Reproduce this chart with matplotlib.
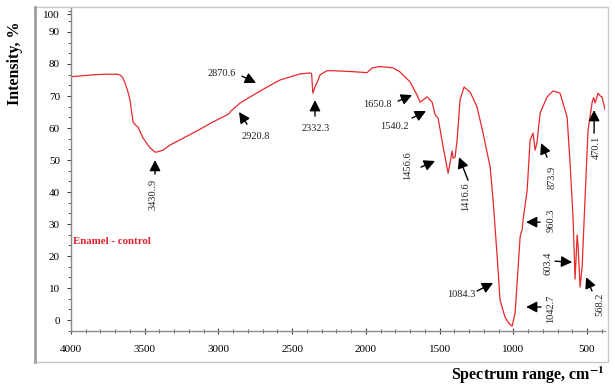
import matplotlib
matplotlib.use("Agg")
import matplotlib.pyplot as plt
from matplotlib.patches import Rectangle
from matplotlib.lines import Line2D
from matplotlib.ticker import MultipleLocator

plt.rcParams["font.family"] = ["Liberation Serif", "DejaVu Serif"]
plt.rcParams["mathtext.fontset"] = "stix"

# -------------------------------
# Spectrum
# -------------------------------
wavenumber = [4000, 3930, 3851, 3780, 3688, 3668, 3650, 3634, 3615, 3600, 3590,
              3579, 3560, 3545, 3512, 3464, 3430, 3417, 3376, 3328, 3261, 3145,
              3037, 2942, 2925, 2918, 2853, 2786, 2670, 2582, 2446, 2379, 2368,
              2360, 2345, 2332, 2311, 2264, 2222, 2087, 1992, 1975, 1958, 1904,
              1815, 1768, 1700, 1653, 1632, 1585, 1551, 1530, 1510, 1476, 1442,
              1429, 1415, 1408, 1395, 1381, 1361, 1334, 1293, 1246, 1205, 1157,
              1137, 1110, 1090, 1056, 1030, 1008, 988, 967, 954, 946, 940, 934,
              906, 886, 866, 852, 839, 818, 771, 730, 683, 635, 615, 594, 581,
              567, 560, 547, 533, 513, 493, 465, 455, 445, 425, 410, 398, 377]
intensity = [76.0, 76.3, 76.6, 76.8, 76.8, 76.6, 75.8, 74.1, 71.5, 68.8, 65.5,
             61.9, 60.8, 60.3, 56.9, 53.8, 52.5, 52.5, 53.1, 54.7, 56.3, 59.1,
             61.9, 64.1, 64.6, 65.2, 67.8, 69.7, 72.8, 75.0, 76.9, 77.2, 77.0,
             70.9, 72.8, 74.1, 76.6, 77.9, 77.9, 77.6, 77.3, 78.0, 78.75, 79.2,
             78.8, 77.5, 74.4, 70.3, 68.1, 69.7, 68.1, 64.1, 63.1, 54.1, 45.9,
             49.1, 52.8, 50.6, 50.9, 56.3, 68.8, 72.8, 71.25, 66.6, 58.4, 47.8,
             37.5, 20.3, 6.3, 0.9, -1.0, -1.9, 2.2, 16.6, 25.9, 27.5, 28.1, 31.25,
             40.6, 56.25, 58.4, 53.1, 55.6, 64.7, 69.7, 71.6, 70.9, 63.4, 49.1,
             31.25, 12.8, 26.6, 22.8, 10.3, 16.6, 38.4, 59.4, 68.1, 69.5, 67.8,
             70.9, 70.0, 69.7, 65.6]

y_ticks = [0, 10, 20, 30, 40, 50, 60, 70, 80, 90, 95.5]
y_tick_labels = ["0", "10", "20", "30", "40", "50", "60", "70", "80", "90", "100"]
x_ticks = [4000, 3500, 3000, 2500, 2000, 1500, 1000, 500]

# label, arrow tail, arrow tip, text position, rotation
peaks = [
    ("3430..9", (3430, 45.6), (3430, 50.0), (3444, 39.1), 90),
    ("2870.6", (2840, 76.2), (2745, 74.1), (2975, 76.9), 0),
    ("2920.8", (2806, 61.2), (2860, 65.0), (2745, 57.5), 0),
    ("2332.3", (2345, 63.7), (2345, 68.7), (2338, 60.0), 0),
    ("1650.8", (1782, 68.4), (1687, 70.3), (1924, 67.2), 0),
    ("1540.2", (1687, 63.1), (1592, 65.3), (1809, 60.6), 0),
    ("1456.6", (1626, 47.8), (1531, 49.7), (1714, 48.1), 90),
    ("1416.6", (1307, 43.7), (1368, 50.9), (1320, 38.7), 90),
    ("1084.3", (1246, 9.1), (1137, 11.6), (1354, 8.1), 0),
    ("1042.7", (812, 4.1), (913, 4.1), (744, 3.4), 90),
    ("960.3", (818, 30.6), (913, 30.6), (744, 31.2), 90),
    ("603.4", (717, 18.4), (601, 18.1), (764, 17.8), 90),
    ("568.2", (466, 9.1), (506, 13.4), (411, 5.0), 90),
    ("873.9", (771, 50.9), (812, 55.3), (737, 44.7), 90),
    ("470.1", (452, 58.4), (452, 65.6), (439, 54.1), 90),
]

fig = plt.figure(figsize=(6.15, 3.85), dpi=100)
ax = fig.add_axes([71 / 615, 1 - 331 / 385, 534 / 615, 324 / 385])

ax.plot(wavenumber, intensity, color="#e8282a", lw=0.9)

ax.set_xlim(4000, 378)
ax.set_ylim(-3.4, 97.8)
ax.set_xticks(x_ticks)
ax.xaxis.set_minor_locator(MultipleLocator(100))
ax.set_yticks(y_ticks)
ax.set_yticklabels(y_tick_labels)
ax.yaxis.set_minor_locator(MultipleLocator(10 / 3))

for side in ["top", "right"]:
    ax.spines[side].set_visible(False)
for side in ["left", "bottom"]:
    ax.spines[side].set_color("#8a8a8a")
    ax.spines[side].set_linewidth(1.0)

ax.tick_params(axis="x", which="major", direction="inout", length=4, width=0.8,
               color="#444444", labelsize=8, pad=8)
ax.tick_params(axis="x", which="minor", direction="inout", length=3, width=0.6,
               color="#444444")
ax.tick_params(axis="y", which="major", direction="out", length=3, width=0.8,
               color="#444444", labelsize=8, pad=5)
ax.tick_params(axis="y", which="minor", direction="out", length=2, width=0.6,
               color="#444444")

for label, tail, tip, pos, rot in peaks:
    ax.annotate("", xy=tip, xytext=tail,
                arrowprops=dict(arrowstyle="-|>,head_length=0.65,head_width=0.33",
                                color="black", lw=1.0, shrinkA=0, shrinkB=0))
    ax.text(pos[0], pos[1], label, rotation=rot, ha="center", va="center",
            fontsize=7.5, color="#222222")

ax.text(3986, 24.4, "Enamel - control", color="#e0202a", fontweight="bold",
        fontsize=7.8, ha="left", va="center")

# outer grey frame
fig.patches.append(Rectangle((35 / 615, 1 - 362 / 385), 573 / 615, 355 / 385,
                             transform=fig.transFigure, fill=False,
                             edgecolor="#c8c8c8", lw=1.0))
fig.lines.append(Line2D([35 / 615, 35 / 615], [1 - 362 / 385, 1 - 7 / 385],
                        transform=fig.transFigure, color="#a0a0a0", lw=2.0))

fig.text(15 / 615, 1 - 63 / 385, "Intensity, %", rotation=90, ha="center",
         va="center", fontsize=11.5, fontweight="bold")
fig.text(605 / 615, 1 - 380 / 385, r"Spectrum range, cm$^{\mathbf{-1}}$",
         ha="right", va="baseline", fontsize=11.5, fontweight="bold")

fig.savefig("out.png", dpi=100)
